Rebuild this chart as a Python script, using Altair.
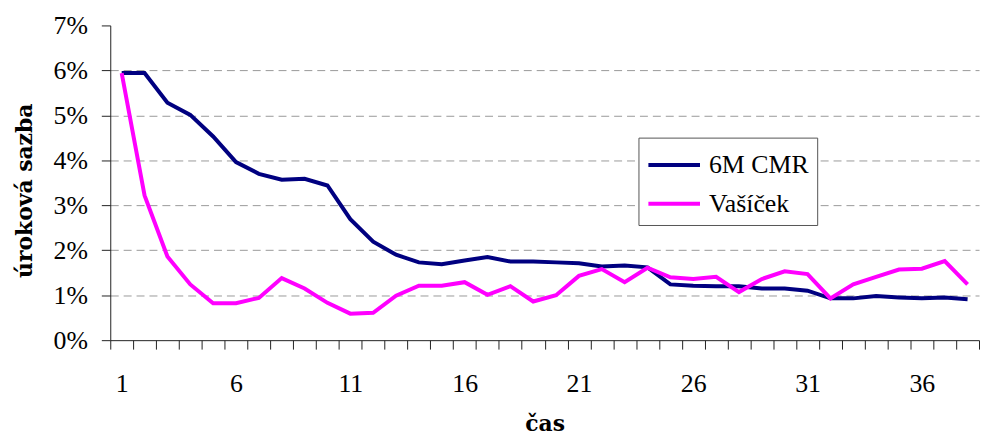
import altair as alt
import pandas as pd

# time points
cas = list(range(1, 39))

# interest rates in %
cmr_6m = [5.94, 5.94, 5.28, 5.01, 4.53, 3.96, 3.70, 3.57, 3.59, 3.44,
          2.69, 2.19, 1.90, 1.73, 1.69, 1.77, 1.85, 1.75, 1.75, 1.73,
          1.71, 1.64, 1.66, 1.62, 1.24, 1.21, 1.20, 1.20, 1.15, 1.15,
          1.10, 0.93, 0.93, 0.98, 0.95, 0.93, 0.95, 0.91]
vasicek = [5.94, 3.22, 1.86, 1.24, 0.82, 0.82, 0.94, 1.38, 1.15, 0.83,
           0.59, 0.61, 0.99, 1.21, 1.21, 1.29, 1.01, 1.20, 0.86, 1.00,
           1.43, 1.58, 1.29, 1.61, 1.40, 1.36, 1.41, 1.07, 1.36, 1.53,
           1.47, 0.93, 1.24, 1.41, 1.57, 1.59, 1.76, 1.24]

series_names = ["6M CMR", "Vašíček"]
series_colors = ["#000080", "#FF00FF"]
y_ticks = [0, 1, 2, 3, 4, 5, 6, 7]

df = pd.concat([
    pd.DataFrame({"cas": cas, "sazba": cmr_6m, "serie": series_names[0]}),
    pd.DataFrame({"cas": cas, "sazba": vasicek, "serie": series_names[1]}),
])

FONT = "Liberation Serif"
TFONT = "DejaVu Serif"

chart = alt.Chart(df).mark_line(strokeWidth=4).encode(
    x=alt.X(
        "cas:O",
        scale=alt.Scale(type="band", paddingInner=0, paddingOuter=0),
        bandPosition=0.5,
        axis=alt.Axis(
            title="čas",
            tickBand="extent",
            labelAngle=0,
            labelOverlap=False,
            labelExpr="(toNumber(datum.value) - 1) % 5 == 0 ? datum.label : ''",
            labelFont=FONT, labelFontSize=26, labelColor="black",
            labelPadding=22,
            tickSize=9, tickColor="#222", domainColor="#222",
            titleFont=TFONT, titleFontSize=22, titleFontWeight="bold",
            titleColor="black", titleY=84, titleBaseline="middle",
            grid=False,
        ),
    ),
    y=alt.Y(
        "sazba:Q",
        scale=alt.Scale(domain=[0, 7], nice=False),
        axis=alt.Axis(
            title="úroková sazba",
            values=y_ticks,
            labelExpr="datum.value + '%'",
            labelFont=FONT, labelFontSize=26, labelColor="black",
            labelPadding=14,
            tickSize=9, tickColor="#222", domainColor="#222",
            titleFont=TFONT, titleFontSize=22, titleFontWeight="bold",
            titleColor="black", titleX=-86, titleY=166,
            titleBaseline="middle", titleAlign="center",
            grid=True, gridColor="#999", gridDash=[8, 5], gridWidth=1,
            gridOpacity={"condition": {"test": "datum.value == 0 || datum.value >= 7", "value": 0}, "value": 1},
        ),
    ),
    color=alt.Color(
        "serie:N",
        scale=alt.Scale(domain=series_names, range=series_colors),
        legend=alt.Legend(
            title=None,
            orient="none", legendX=532, legendY=113,
            strokeColor="#555", fillColor="white", padding=8,
            symbolType="M-1,0H1.97",
            symbolSize=1225, symbolStrokeWidth=4,
            labelFont=FONT, labelFontSize=26, labelColor="black",
            labelOffset=24, rowPadding=6,
        ),
    ),
).properties(
    width=875, height=317,
    autosize="none",
    padding={"left": 103, "top": 16, "right": 2, "bottom": 100},
).configure_view(stroke=None)

chart.save("out.html", embed_options={"renderer": "svg", "actions": False})
